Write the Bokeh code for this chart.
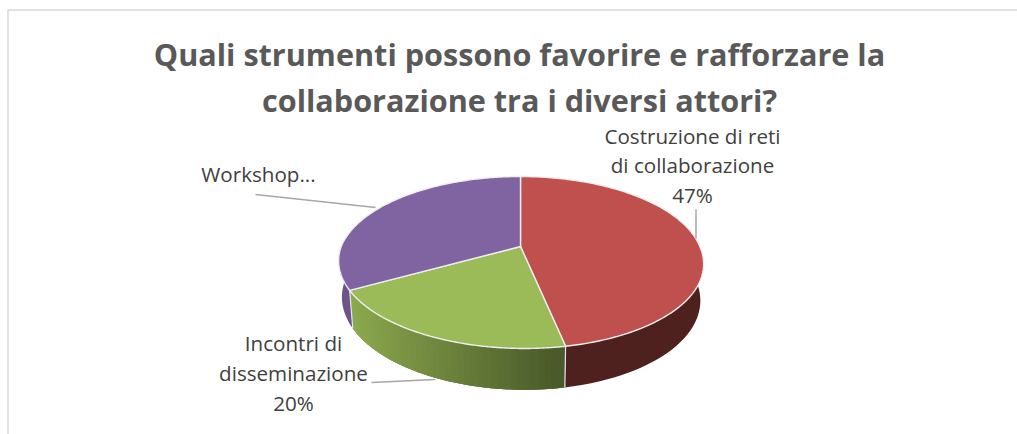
import numpy as np
from bokeh.plotting import figure
from bokeh.models import Range1d
from bokeh.core.properties import value
from bokeh.embed import file_html
from bokeh.resources import INLINE

title_lines = ["Quali strumenti possono favorire e rafforzare la", "collaborazione tra i diversi attori?"]
categories = ["Costruzione di reti di collaborazione", "Incontri di disseminazione", "Workshop..."]
values = [47, 20, 33]
label_lines = [["Costruzione di reti", "di collaborazione", "47%"],
               ["Incontri di", "disseminazione", "20%"],
               ["Workshop..."]]
top_colors = ["#c0504d", "#9bbb59", "#8064a2"]
wall_left = ["#4e201e", "#8dab4e", "#6c538b"]
wall_right = ["#4e201e", "#4a5a2a", "#6c538b"]

CX, CY, KX, KY, A, SKEW = 520.0, 246.0, 179.3, 83.0, 0.186, 0.04

def top_rim(t):
    u, v = np.sin(t), -np.cos(t)
    w = 1 - A * v
    dy = KY * v / w
    return CX + KX * u / w + SKEW * np.maximum(dy, 0), CY + dy

def bottom_rim(t):
    u, v = np.sin(t), -np.cos(t)
    w = 1 - A * v
    dy = KY * v / w
    return CX + 0.982 * KX * u / w + SKEW * np.maximum(dy, 0), CY + 35.5 + 1.057 * dy

def hex_rgb(c):
    return np.array([int(c[i:i + 2], 16) for i in (1, 3, 5)], float)

def mix(a, b, f):
    r = hex_rgb(a) * (1 - f) + hex_rgb(b) * f
    return "#%02x%02x%02x" % tuple(int(round(x)) for x in r)

p = figure(width=1017, height=434, output_backend="svg", toolbar_location=None,
           x_range=Range1d(0, 1017), y_range=Range1d(434, 0),
           min_border=0, outline_line_color=None, background_fill_color="white")
p.axis.visible = False
p.grid.visible = False

# frame
p.line([7.5, 7.5, 1017], [434, 9.5, 9.5], line_color="#d9d9d9", line_width=1.5)

edges = 2 * np.pi * np.concatenate([[0], np.cumsum(values)]) / sum(values)

# walls
for i in range(len(values)):
    a0, a1 = edges[i], edges[i + 1]
    lo, hi = max(a0, np.pi * 0.42), min(a1, np.pi * 1.58)
    if hi <= lo:
        continue
    n = 40
    ts = np.linspace(lo, hi, n + 1)
    xs_all = top_rim(ts)[0]
    xmin, xmax = xs_all.min(), xs_all.max()
    # solid base under the gradient strips
    tx, ty = top_rim(ts); bx, by = bottom_rim(ts)
    base = mix(wall_left[i], wall_right[i], 0.5)
    p.patch(np.r_[tx, bx[::-1]], np.r_[ty, by[::-1]], fill_color=base, line_color=None)
    if wall_left[i] == wall_right[i]:
        continue
    xs, ys, cols = [], [], []
    for k in range(n):
        t0, t1 = ts[k], ts[min(k + 2, n)]
        x0, y0 = top_rim(t0); x1, y1 = top_rim(t1)
        x2, y2 = bottom_rim(t1); x3, y3 = bottom_rim(t0)
        xs.append([x0, x1, x2, x3]); ys.append([y0, y1, y2, y3])
        f = (top_rim(ts[k])[0] - xmin) / max(xmax - xmin, 1)
        cols.append(mix(wall_left[i], wall_right[i], f))
    # draw from the far end so each overlap is covered by its neighbour
    p.patches(xs[::-1], ys[::-1], fill_color=cols[::-1], line_color=None)

# wall separators
for e in edges[1:3]:
    x0, y0 = top_rim(e); x1, y1 = bottom_rim(e)
    p.line([x0, x1], [y0, y1], line_color="#e6e6e6", line_width=1.2)

# top face
for i in range(len(values)):
    ts = np.linspace(edges[i], edges[i + 1], 160)
    x, y = top_rim(ts)
    p.patch(np.r_[CX, x], np.r_[CY, y], fill_color=top_colors[i],
            line_color="#eeeeee", line_width=1.4, line_join="round")

# leader lines
leaders = [([695.5, 695.5], [209, 238]), ([371, 435], [382, 379]), ([255, 375], [194, 207])]
for lx, ly in leaders:
    p.line(lx, ly, line_color="#a6a6a6", line_width=1.5)

# title
for s, y in zip(title_lines, [53, 99]):
    p.text([519], [y], text=[s], text_font=value("Open Sans"), text_font_style="bold",
           text_font_size="30.6px", text_color="#595959", text_align="center", text_baseline="middle")

# labels
anchors = [(692, [135, 164, 194]), (293, [342, 372, 402]), (258, [173])]
for lines, (ax, ys_) in zip(label_lines, anchors):
    for s, y in zip(lines, ys_):
        p.text([ax], [y], text=[s], text_font=value("Open Sans"), text_font_size="20.6px",
               text_color="#404040", text_align="center", text_baseline="middle")

open("out.html", "w").write(file_html(p, INLINE))
